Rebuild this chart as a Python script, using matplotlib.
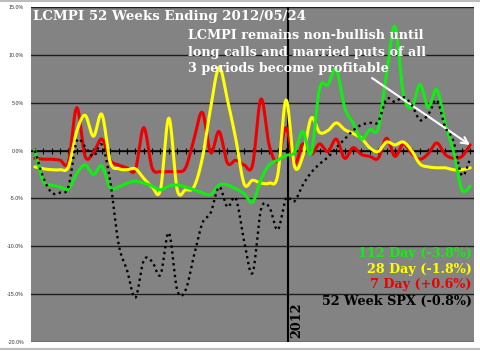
import numpy as np
import matplotlib
matplotlib.use('Agg')
import matplotlib.pyplot as plt

# ---------------- data ----------------
weeks = np.arange(53)
day112 = [0.0, -3.2, -3.6, -3.8, -4.0, -2.4, -1.5, -2.5, -1.6, -3.9,
          -3.8, -3.4, -3.2, -3.4, -3.7, -4.1, -3.7, -3.6, -3.8, -4.1,
          -4.4, -4.6, -3.6, -3.6, -4.0, -4.5, -5.4, -3.0, -1.5, -1.0,
          -0.5, -0.2, 2.0, -0.3, 6.5, 6.9, 8.5, 4.5, 2.9, 1.2,
          2.2, 2.3, 8.0, 13.0, 6.0, 4.5, 6.9, 4.5, 6.4, 2.8,
          0.0, -4.1, -3.7]
day28 = [-1.7, -1.9, -2.0, -2.0, -1.7, 2.0, 3.7, 1.5, 3.8, -1.2,
         -1.9, -2.0, -1.9, -2.9, -3.8, -4.1, 3.4, -4.1, -4.1, -3.8,
         -0.8, 4.5, 8.7, 5.3, 1.2, -3.5, -3.1, -3.4, -3.4, -2.6,
         5.3, -1.6, -0.6, 3.4, 1.9, 2.1, 2.9, 2.2, 1.8, 1.3,
         0.3, -0.1, 0.9, 0.6, 0.9, 0.0, -1.4, -1.7, -1.8, -1.8,
         -2.0, -2.0, -1.8]
day7 = [-0.8, -0.9, -0.9, -1.0, -1.2, 4.5, -0.6, -0.2, 1.2, -1.0,
        -1.5, -1.8, -2.0, 2.4, -1.8, -2.2, -2.2, -2.2, -1.8, 1.2,
        4.0, -0.2, 2.0, -1.3, -1.0, -1.5, -1.5, 5.4, 0.5, -1.1,
        2.4, -1.4, 0.7, -0.4, 0.7, -0.1, 1.2, -0.8, 0.3, -0.4,
        -0.6, -0.8, 1.3, -0.6, 0.7, -0.3, -0.9, -0.3, 0.8, -0.4,
        -0.8, -0.6, 0.6]
spx52 = [0.0, -2.8, -4.4, -4.4, -3.8, 1.0, 0.4, -0.6, 0.6, -3.2,
         -9.8, -12.5, -15.4, -11.5, -11.6, -13.0, -8.6, -14.6, -14.6, -11.0,
         -7.6, -6.5, -3.8, -5.9, -5.0, -9.5, -12.8, -6.2, -5.9, -8.3,
         -5.0, -5.3, -3.6, -2.3, -1.4, -0.7, 0.3, 1.2, 2.1, 2.7,
         2.9, 3.0, 5.4, 5.1, 5.6, 4.8, 3.2, 3.8, 5.3, 2.5,
         1.0, -2.6, -0.8]

ytick_vals = [15, 10, 5, 0, -5, -10, -15, -20]
ytick_labels = ['15.0%', '10.0%', '5.0%', '0.0%', '-5.0%', '-10.0%', '-15.0%', '-20.0%']
legend_labels = ['112 Day (-3.8%)', '28 Day (-1.8%)', '7 Day (+0.6%)', '52 Week SPX (-0.8%)']
title = 'LCMPI 52 Weeks Ending 2012/05/24'
note_lines = ['LCMPI remains non-bullish until',
              'long calls and married puts of all',
              '3 periods become profitable']
year_label = '2012'
year_pos = 30.25

# ---------------- helpers ----------------
def smooth(x, y, n=14):
    """Excel-like smoothed line (Catmull-Rom as cubic Bezier)."""
    P = np.column_stack([np.asarray(x, float), np.asarray(y, float)])
    Pp = np.vstack([P[0], P, P[-1]])
    t = np.linspace(0, 1, n, endpoint=False)[:, None]
    segs = []
    for i in range(len(P) - 1):
        p0, p1, p2, p3 = Pp[i], Pp[i + 1], Pp[i + 2], Pp[i + 3]
        c1 = p1 + (p2 - p0) / 6.0
        c2 = p2 - (p3 - p1) / 6.0
        segs.append((1 - t) ** 3 * p1 + 3 * (1 - t) ** 2 * t * c1
                    + 3 * (1 - t) * t ** 2 * c2 + t ** 3 * p2)
    segs.append(P[-1][None, :])
    S = np.vstack(segs)
    return S[:, 0], S[:, 1]

W, H = 480, 351
def fx(px):
    return px / W
def fy(py):
    return 1 - py / H

# ---------------- figure ----------------
fig = plt.figure(figsize=(4.8, 3.51), dpi=100)
fig.patch.set_facecolor('white')

ax = fig.add_axes([fx(30.7), fy(341.7), (474 - 30.7) / W, (341.7 - 7.3) / H])
ax.set_facecolor('#838383')
ax.set_xlim(-0.5, 52.45)
ax.set_ylim(-20, 15)

for s in ax.spines.values():
    s.set_visible(False)

ax.set_yticks(ytick_vals)
ax.set_yticklabels(ytick_labels, fontsize=3.8, color='#333333', family='Liberation Sans')
ax.tick_params(axis='y', length=0, pad=4.8)
ax.set_xticks([])
ax.yaxis.grid(True, color='#1e1e1e', lw=1.0)
ax.set_axisbelow(True)

# zero line with weekly tick marks
ax.axhline(0, color='black', lw=1.1, zorder=1.5)
ax.plot(weeks, np.zeros_like(weeks), ls='none', marker='|', ms=4, mew=0.8,
        color='black', zorder=1.6)
# 2012 divider
ax.axvline(year_pos, color='black', lw=1.5, zorder=1.7)

series = [(day112, '#11ee11', 2.2, '-', 3),
          (day28, '#ffff00', 2.2, '-', 2.9),
          (day7, '#ee0000', 2.2, '-', 2.8)]
for vals, col, lw, ls, z in series:
    xs, ys = smooth(weeks, vals)
    ax.plot(xs, ys, color=col, lw=lw, ls=ls, zorder=z, solid_capstyle='round')

xs, ys = smooth(weeks, spx52)
ax.plot(xs, ys, color='black', lw=1.7, ls=(0, (1, 1.5)), zorder=3.5)

# ---------------- texts ----------------
serif = 'DejaVu Serif'
fig.text(fx(33), fy(20), title, color='white', fontsize=9.6, fontweight='bold',
         family=serif, va='baseline', ha='left')
for k, line in enumerate(note_lines):
    fig.text(fx(188), fy(39.3 + 16.3 * k), line, color='white', fontsize=9.2,
             fontweight='bold', family=serif, va='baseline', ha='left')

leg_cols = ['#11ee11', '#ffff00', '#ee0000', 'black']
leg_y = [257.3, 272.5, 288.3, 305]
for lab, col, yy in zip(legend_labels, leg_cols, leg_y):
    fig.text(fx(472), fy(yy), lab, color=col, fontsize=9.2, fontweight='bold',
             family=serif, va='baseline', ha='right')

fig.text(fx(290), fy(338), year_label, rotation=90, color='black', fontsize=9.2,
         fontweight='bold', family=serif, ha='left', va='bottom')

ax.annotate('', xy=(fx(470), fy(145)), xytext=(fx(372), fy(78)),
            xycoords='figure fraction', textcoords='figure fraction',
            arrowprops=dict(arrowstyle='->', color='white', lw=1.5,
                            mutation_scale=12, shrinkA=0, shrinkB=0))

# chart-area border lines (top and bottom)
fig.add_artist(plt.Line2D([0, 1], [fy(1), fy(1)], color='#bdbdbd', lw=1.5))
fig.add_artist(plt.Line2D([0, 1], [fy(348.5), fy(348.5)], color='#bdbdbd', lw=1.5))

fig.savefig('out.png', dpi=100, facecolor='white')
